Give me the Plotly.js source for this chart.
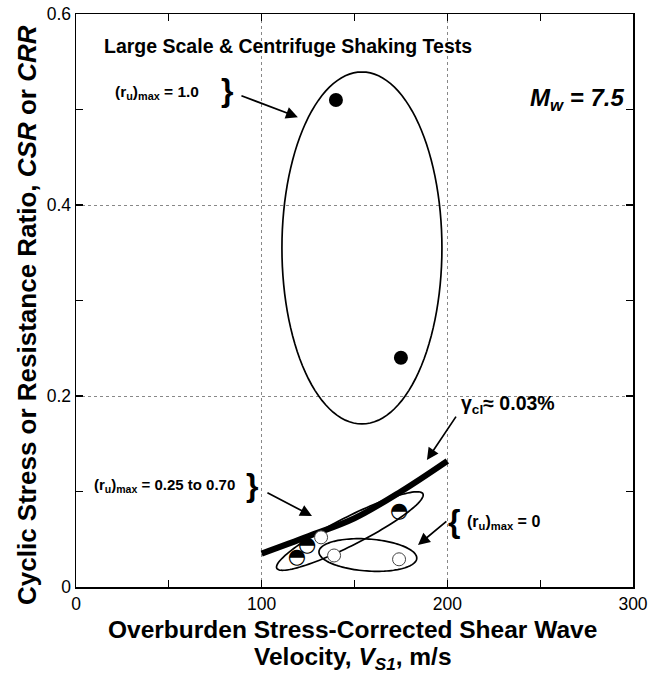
<!DOCTYPE html>
<html>
<head>
<meta charset="utf-8">
<script src="https://cdn.plot.ly/plotly-3.0.1.min.js"></script>
<style>html,body{margin:0;padding:0;background:#fff;}#chart{width:652px;height:677px;}</style>
</head>
<body>
<div id="chart"></div>
<script>
// ---- data ----
const fullX = [140, 175];            // (ru)max = 1.0, filled circles
const fullY = [0.51, 0.24];
const halfX = [119, 124.5, 174];     // (ru)max = 0.25 to 0.70, half-filled circles
const halfY = [0.031, 0.043, 0.079];
const openX = [132, 139, 174];       // (ru)max = 0, open circles
const openY = [0.052, 0.033, 0.029];
const curveX = [100, 125, 150, 175, 200];   // gamma_cl ~ 0.03% boundary
const curveY = [0.035, 0.053, 0.072, 0.100, 0.132];
const xTickVals = [0, 100, 200, 300];
const yTickVals = [0, 0.2, 0.4, 0.6];

// ---- layout geometry ----
const W = 652, H = 677;
const M = {l: 76, r: 19, t: 14, b: 90};
const xRange = [0, 300], yRange = [0, 0.6];
const pxX = (W - M.l - M.r) / (xRange[1] - xRange[0]);
const pxY = (H - M.t - M.b) / (yRange[1] - yRange[0]);

// ellipses: centre in data units, semi-axes in pixels, tilt in degrees
const ellipses = [
  {cx: 154, cy: 0.355, a: 80, b: 176, ang: 0},
  {cx: 147.5, cy: 0.0586, a: 82, b: 14, ang: 27},
  {cx: 157.2, cy: 0.0335, a: 49, b: 16, ang: -4}
];
function ellipsePath(e) {
  const th = e.ang * Math.PI / 180;
  let p = '';
  for (let i = 0; i <= 120; i++) {
    const t = i / 120 * 2 * Math.PI;
    const ox = e.a * Math.cos(t) * Math.cos(th) - e.b * Math.sin(t) * Math.sin(th);
    const oy = e.a * Math.cos(t) * Math.sin(th) + e.b * Math.sin(t) * Math.cos(th);
    const x = e.cx + ox / pxX, y = e.cy + oy / pxY;
    p += (i === 0 ? 'M' : 'L') + x.toFixed(3) + ',' + y.toFixed(5);
  }
  return p + 'Z';
}
const shapes = ellipses.map(e => ({
  type: 'path', xref: 'x', yref: 'y', path: ellipsePath(e),
  line: {color: '#000', width: 1.7}, layer: 'between'
}));

const FONT = 'Liberation Sans, Arial, sans-serif';

const traces = [
  {x: curveX, y: curveY, mode: 'lines', line: {color: '#000', width: 6, shape: 'spline'}, hoverinfo: 'skip'},
  {x: openX, y: openY, mode: 'markers', marker: {symbol: 'circle', size: 13, color: '#fff', line: {color: '#444', width: 1}}},
  {x: halfX, y: halfY, mode: 'text', text: halfX.map(() => '◓'), textposition: 'middle center',
   textfont: {family: 'DejaVu Sans', size: 21, color: '#000'}},
  {x: fullX, y: fullY, mode: 'markers', marker: {symbol: 'circle', size: 14, color: '#000'}}
];

function arrow(x, y, ax, ay) {
  return {x: x, y: y, ax: ax, ay: ay, xref: 'x', yref: 'y', axref: 'x', ayref: 'y',
    showarrow: true, arrowhead: 2, arrowsize: 1.4, arrowwidth: 1.7, arrowcolor: '#000', text: ''};
}
function txt(x, y, text, size, extra) {
  return Object.assign({x: x, y: y, xref: 'x', yref: 'y', text: text, showarrow: false,
    font: {family: FONT, size: size, color: '#000'}}, extra || {});
}
function paperTxt(x, y, text, size, extra) {
  return Object.assign({x: x, y: y, xref: 'paper', yref: 'paper', xanchor: 'center', yanchor: 'middle',
    text: text, showarrow: false, font: {family: FONT, size: size, color: '#000'}}, extra || {});
}

const annotations = [
  txt(114, 0.566, '<b>Large Scale &amp; Centrifuge Shaking Tests</b>', 19.5),
  txt(270, 0.51, '<b><i>M<sub>w</sub> = 7.5</i></b>', 24),
  txt(43.5, 0.518, '<b>(r<sub>u</sub>)<sub>max</sub> = 1.0</b>', 15.5),
  txt(81.3, 0.52, '<b>}</b>', 32),
  arrow(119.5, 0.492, 88.3, 0.515),
  txt(47.5, 0.106, '<b>(r<sub>u</sub>)<sub>max</sub> = 0.25 to 0.70</b>', 15),
  txt(94.8, 0.107, '<b>}</b>', 32),
  arrow(127.1, 0.0743, 102.3, 0.0995),
  txt(203.5, 0.069, '<b>{</b>', 32),
  txt(230, 0.068, '<b>(r<sub>u</sub>)<sub>max</sub> = 0</b>', 16),
  arrow(184.2, 0.044, 200.3, 0.070),
  txt(232.6, 0.1916, '<b>γ<sub>cl</sub>≈ 0.03%</b>', 19.5),
  arrow(189, 0.133, 205.2, 0.18),
  // axis titles
  paperTxt(0.4973, -0.0745, '<b>Overburden Stress-Corrected Shear Wave</b>', 24.5),
  paperTxt(0.4973, -0.124, '<b>Velocity, <i>V<sub>S1</sub></i>, m/s</b>', 24.5),
  paperTxt(-0.088, 0.4747, '<b>Cyclic Stress or Resistance Ratio, <i>CSR</i> or <i>CRR</i></b>', 26, {textangle: -90})
];

const axisCommon = {
  showline: true, linecolor: '#000', linewidth: 1.5, mirror: 'ticks',
  ticks: 'inside', ticklen: 7, tickwidth: 1.2, tickcolor: '#000',
  showgrid: true, gridcolor: '#888', griddash: 'dot', gridwidth: 1,
  zeroline: false, tickfont: {family: FONT, size: 17.5, color: '#000'},
  fixedrange: true
};

const layout = {
  width: W, height: H, margin: M,
  paper_bgcolor: '#fff', plot_bgcolor: '#fff', showlegend: false,
  font: {family: FONT, color: '#000'},
  xaxis: Object.assign({}, axisCommon, {
    range: xRange, tickvals: xTickVals,
    minor: {dtick: 50, ticks: 'inside', ticklen: 7, tickwidth: 1.2, tickcolor: '#000', showgrid: false}
  }),
  yaxis: Object.assign({}, axisCommon, {
    range: yRange, tickvals: yTickVals,
    minor: {dtick: 0.1, ticks: 'inside', ticklen: 7, tickwidth: 1.2, tickcolor: '#000', showgrid: false}
  }),
  shapes: shapes,
  annotations: annotations
};

Plotly.newPlot('chart', traces, layout, {staticPlot: true, displayModeBar: false});
</script>
</body>
</html>
